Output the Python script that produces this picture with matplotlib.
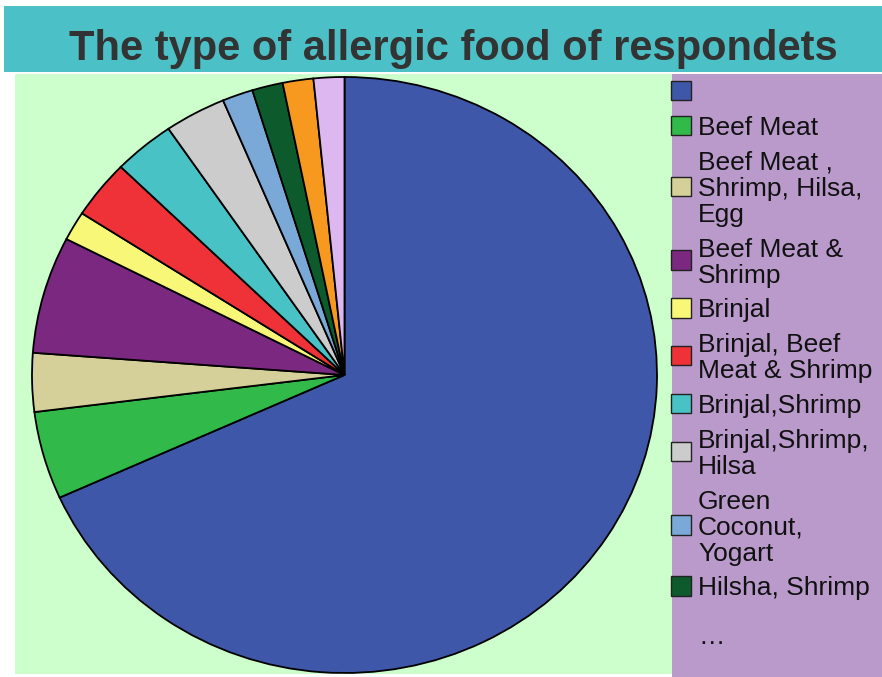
import matplotlib
matplotlib.use("Agg")
import matplotlib.pyplot as plt
from matplotlib.patches import Rectangle

plt.rcParams["font.family"] = ["Liberation Sans", "DejaVu Sans"]

# Respondents by allergic food (counts)
categories = [
    "",
    "Beef Meat",
    "Beef Meat ,\nShrimp, Hilsa,\nEgg",
    "Beef Meat &\nShrimp",
    "Brinjal",
    "Brinjal, Beef\nMeat & Shrimp",
    "Brinjal,Shrimp",
    "Brinjal,Shrimp,\nHilsa",
    "Green\nCoconut,\nYogart",
    "Hilsha, Shrimp",
    "Shrimp",
    "Shrimp, Egg",
]
counts = [43, 3, 2, 4, 1, 2, 2, 2, 1, 1, 1, 1]
colors = [
    "#3E57A9", "#31BA4A", "#D5CF99", "#7B2880", "#F9F777", "#EE3238",
    "#48C2C5", "#CCCCCC", "#7AA9D8", "#0D5B2D", "#F7991F", "#DDB8F0",
]
legend_shown = 10
title = "The type of allergic food of respondets"

W, H = 882, 677
fig = plt.figure(figsize=(W / 100, H / 100), dpi=100)
fig.patch.set_facecolor("white")


def fx(x):
    return x / W


def fy(y):
    return 1 - y / H


def band(x0, y0, x1, y1, color):
    fig.add_artist(Rectangle((fx(x0), fy(y1)), fx(x1) - fx(x0), fy(y0) - fy(y1),
                             transform=fig.transFigure, facecolor=color,
                             edgecolor="none", zorder=-10))


# Title bar, plot area and legend panel
band(4, 6, W, 72, "#4BC0C6")
band(15, 74, 672, 674, "#CCFFCC")
band(672, 74, W, 677, "#B99ACB")

fig.text(fx(453), fy(60), title, ha="center", va="baseline",
         fontsize=30, fontweight="bold", color="#333333")

# Pie (stretched slightly wider than tall)
ax = fig.add_axes([fx(32), fy(673), fx(657) - fx(32), fy(77) - fy(673)])
ax.pie(counts, colors=colors, startangle=90, counterclock=False,
       wedgeprops=dict(edgecolor="black", linewidth=1.3))
ax.set_aspect("auto")
ax.set_xlim(-1, 1)
ax.set_ylim(-1, 1)
ax.axis("off")

# Legend
pitch, gap = 26.0, 8.8
center = 90.7
prev_lines = None
for i in range(legend_shown):
    lines = categories[i].split("\n")
    n = len(lines)
    if prev_lines is not None:
        center += (prev_lines + n) / 2 * pitch + gap
    prev_lines = n
    fig.add_artist(Rectangle((fx(671), fy(center + 9.7)), fx(20), 19.4 / H,
                             transform=fig.transFigure, facecolor=colors[i],
                             edgecolor="#222222", linewidth=1.0, zorder=3))
    for k, line in enumerate(lines):
        yc = center + (k - (n - 1) / 2) * pitch
        fig.text(fx(698), fy(yc + 9.5), line, ha="left", va="baseline",
                 fontsize=19, color="#111111")

fig.text(fx(698), fy(644), "\u2026", ha="left", va="baseline",
         fontsize=19, color="#111111")

fig.savefig("out.png", dpi=100, facecolor=fig.get_facecolor())
